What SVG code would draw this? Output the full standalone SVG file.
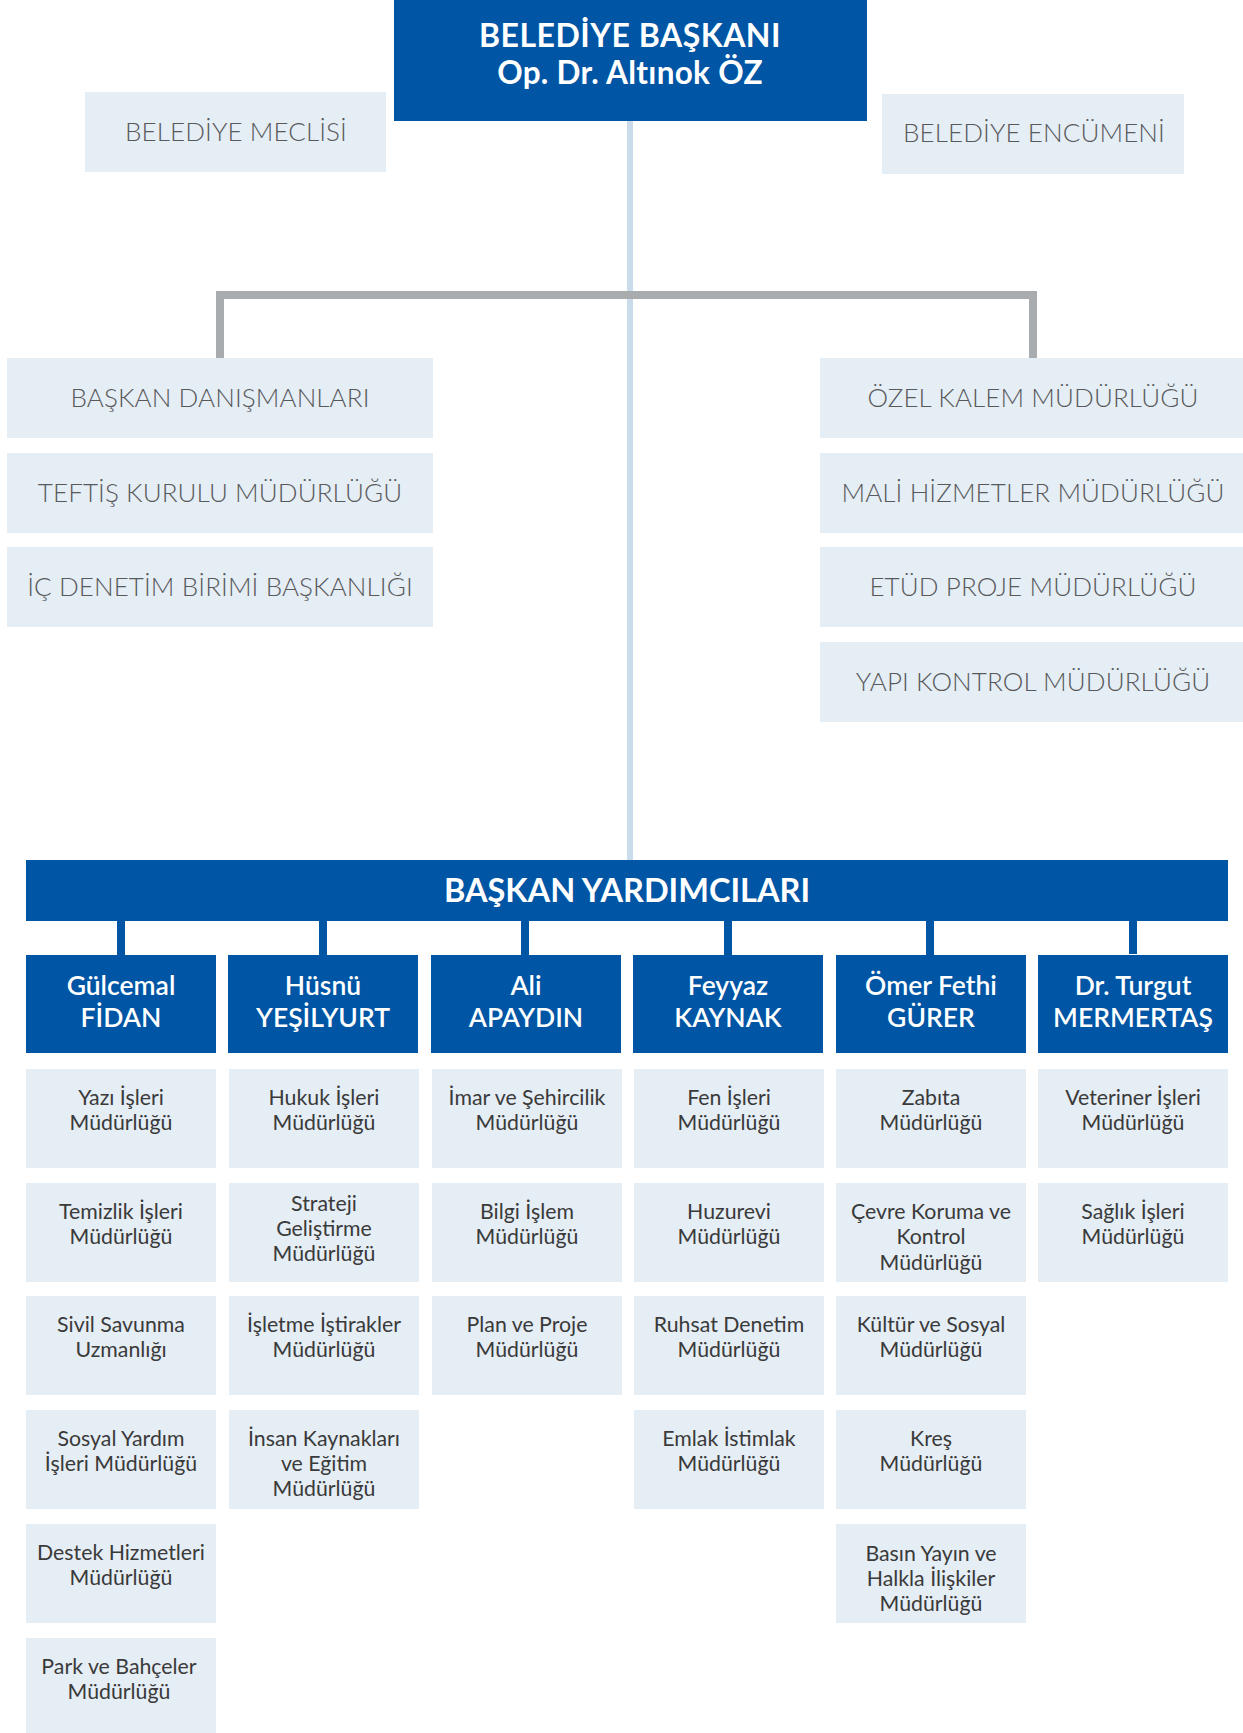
<svg xmlns="http://www.w3.org/2000/svg" width="1243" height="1733" viewBox="0 0 1243 1733">
<style>
.blue{fill:#0055A5}
.light{fill:#E5EDF5}
.tw{fill:#ffffff;font-family:Lato,"Open Sans",sans-serif;text-anchor:middle}
.tb{font-weight:700}
.tg{fill:#58595B;font-family:Lato,"Open Sans",sans-serif;font-weight:300;font-size:26px;letter-spacing:0.1px;text-anchor:middle}
.tp{font-weight:600;font-size:26.5px}
.td{fill:#3A3A3A;font-family:Lato,"Open Sans",sans-serif;font-weight:400;font-size:21.3px;text-anchor:middle}
.con{fill:#0055A5}
</style>
<rect width="1243" height="1733" fill="#ffffff"/>
<g id="connectors">
<rect x="627" y="119" width="6" height="743" fill="#CADCEC"/>
<path d="M220,358 V295 H1033 V358" fill="none" stroke="#A8ACAF" stroke-width="8"/>
<rect class="con" x="117" y="919" width="8" height="37"/>
<rect class="con" x="319" y="919" width="8" height="37"/>
<rect class="con" x="521" y="919" width="8" height="37"/>
<rect class="con" x="724" y="919" width="8" height="37"/>
<rect class="con" x="926" y="919" width="8" height="37"/>
<rect class="con" x="1129" y="919" width="8" height="35"/>
</g>
<g id="baskan">
<rect class="blue" x="394" y="0" width="473" height="121"/>
<text class="tw tb" x="630" y="47" font-size="32" letter-spacing="0.5">BELEDİYE BAŞKANI</text>
<text class="tw tb" x="630" y="84" font-size="31.5" letter-spacing="0.3">Op. Dr. Altınok ÖZ</text>
</g>
<g id="meclis">
<rect class="light" x="85" y="92" width="301" height="80"/>
<text class="tg" x="236" y="141" letter-spacing="0.4">BELEDİYE MECLİSİ</text>
</g>
<g id="encumen">
<rect class="light" x="882" y="94" width="302" height="80"/>
<text class="tg" x="1034" y="142" letter-spacing="0.3">BELEDİYE ENCÜMENİ</text>
</g>
<g id="danismanlar">
<rect class="light" x="7" y="358" width="426" height="80"/>
<text class="tg" x="220" y="407" letter-spacing="0.4">BAŞKAN DANIŞMANLARI</text>
</g>
<g id="teftis">
<rect class="light" x="7" y="453" width="426" height="80"/>
<text class="tg" x="220" y="502">TEFTİŞ KURULU MÜDÜRLÜĞÜ</text>
</g>
<g id="icdenetim">
<rect class="light" x="7" y="547" width="426" height="80"/>
<text class="tg" x="220" y="596">İÇ DENETİM BİRİMİ BAŞKANLIĞI</text>
</g>
<g id="ozelkalem">
<rect class="light" x="820" y="358" width="426" height="80"/>
<text class="tg" x="1033" y="407">ÖZEL KALEM MÜDÜRLÜĞÜ</text>
</g>
<g id="mali">
<rect class="light" x="820" y="453" width="426" height="80"/>
<text class="tg" x="1033" y="502">MALİ HİZMETLER MÜDÜRLÜĞÜ</text>
</g>
<g id="etud">
<rect class="light" x="820" y="547" width="426" height="80"/>
<text class="tg" x="1033" y="596">ETÜD PROJE MÜDÜRLÜĞÜ</text>
</g>
<g id="yapikontrol">
<rect class="light" x="820" y="642" width="426" height="80"/>
<text class="tg" x="1033" y="691">YAPI KONTROL MÜDÜRLÜĞÜ</text>
</g>
<g id="yardimcilar">
<rect class="blue" x="26" y="860" width="1202" height="61"/>
<text class="tw tb" x="627" y="902" font-size="32.5">BAŞKAN YARDIMCILARI</text>
</g>
<g id="p1"><rect class="blue" x="26" y="955" width="190" height="98"/><text class="tw tp" x="121" y="995">Gülcemal</text><text class="tw tp" x="121" y="1027">FİDAN</text></g>
<g id="p2"><rect class="blue" x="228" y="955" width="190" height="98"/><text class="tw tp" x="323" y="995">Hüsnü</text><text class="tw tp" x="323" y="1027">YEŞİLYURT</text></g>
<g id="p3"><rect class="blue" x="431" y="955" width="190" height="98"/><text class="tw tp" x="526" y="995">Ali</text><text class="tw tp" x="526" y="1027">APAYDIN</text></g>
<g id="p4"><rect class="blue" x="633" y="955" width="190" height="98"/><text class="tw tp" x="728" y="995">Feyyaz</text><text class="tw tp" x="728" y="1027">KAYNAK</text></g>
<g id="p5"><rect class="blue" x="836" y="955" width="190" height="98"/><text class="tw tp" x="931" y="995">Ömer Fethi</text><text class="tw tp" x="931" y="1027">GÜRER</text></g>
<g id="p6"><rect class="blue" x="1038" y="955" width="190" height="98"/><text class="tw tp" x="1133" y="995">Dr. Turgut</text><text class="tw tp" x="1133" y="1027">MERMERTAŞ</text></g>

<g id="d1-1"><rect class="light" x="26" y="1069" width="190" height="99"/><text class="td" x="121" y="1105">Yazı İşleri</text><text class="td" x="121" y="1130">Müdürlüğü</text></g>
<g id="d1-2"><rect class="light" x="26" y="1183" width="190" height="99"/><text class="td" x="121" y="1219">Temizlik İşleri</text><text class="td" x="121" y="1244">Müdürlüğü</text></g>
<g id="d1-3"><rect class="light" x="26" y="1296" width="190" height="99"/><text class="td" x="121" y="1332">Sivil Savunma</text><text class="td" x="121" y="1357">Uzmanlığı</text></g>
<g id="d1-4"><rect class="light" x="26" y="1410" width="190" height="99"/><text class="td" x="121" y="1446">Sosyal Yardım</text><text class="td" x="121" y="1471">İşleri Müdürlüğü</text></g>
<g id="d1-5"><rect class="light" x="26" y="1524" width="190" height="99"/><text class="td" x="121" y="1560">Destek Hizmetleri</text><text class="td" x="121" y="1585">Müdürlüğü</text></g>
<g id="d1-6"><rect class="light" x="26" y="1638" width="190" height="99"/><text class="td" x="119" y="1674">Park ve Bahçeler</text><text class="td" x="119" y="1699">Müdürlüğü</text></g>

<g id="d2-1"><rect class="light" x="229" y="1069" width="190" height="99"/><text class="td" x="324" y="1105">Hukuk İşleri</text><text class="td" x="324" y="1130">Müdürlüğü</text></g>
<g id="d2-2"><rect class="light" x="229" y="1183" width="190" height="99"/><text class="td" x="324" y="1211">Strateji</text><text class="td" x="324" y="1236">Geliştirme</text><text class="td" x="324" y="1261">Müdürlüğü</text></g>
<g id="d2-3"><rect class="light" x="229" y="1296" width="190" height="99"/><text class="td" x="324" y="1332">İşletme İştirakler</text><text class="td" x="324" y="1357">Müdürlüğü</text></g>
<g id="d2-4"><rect class="light" x="229" y="1410" width="190" height="99"/><text class="td" x="324" y="1446">İnsan Kaynakları</text><text class="td" x="324" y="1471">ve Eğitim</text><text class="td" x="324" y="1496">Müdürlüğü</text></g>

<g id="d3-1"><rect class="light" x="432" y="1069" width="190" height="99"/><text class="td" x="527" y="1105">İmar ve Şehircilik</text><text class="td" x="527" y="1130">Müdürlüğü</text></g>
<g id="d3-2"><rect class="light" x="432" y="1183" width="190" height="99"/><text class="td" x="527" y="1219">Bilgi İşlem</text><text class="td" x="527" y="1244">Müdürlüğü</text></g>
<g id="d3-3"><rect class="light" x="432" y="1296" width="190" height="99"/><text class="td" x="527" y="1332">Plan ve Proje</text><text class="td" x="527" y="1357">Müdürlüğü</text></g>

<g id="d4-1"><rect class="light" x="634" y="1069" width="190" height="99"/><text class="td" x="729" y="1105">Fen İşleri</text><text class="td" x="729" y="1130">Müdürlüğü</text></g>
<g id="d4-2"><rect class="light" x="634" y="1183" width="190" height="99"/><text class="td" x="729" y="1219">Huzurevi</text><text class="td" x="729" y="1244">Müdürlüğü</text></g>
<g id="d4-3"><rect class="light" x="634" y="1296" width="190" height="99"/><text class="td" x="729" y="1332">Ruhsat Denetim</text><text class="td" x="729" y="1357">Müdürlüğü</text></g>
<g id="d4-4"><rect class="light" x="634" y="1410" width="190" height="99"/><text class="td" x="729" y="1446">Emlak İstimlak</text><text class="td" x="729" y="1471">Müdürlüğü</text></g>

<g id="d5-1"><rect class="light" x="836" y="1069" width="190" height="99"/><text class="td" x="931" y="1105">Zabıta</text><text class="td" x="931" y="1130">Müdürlüğü</text></g>
<g id="d5-2"><rect class="light" x="836" y="1183" width="190" height="99"/><text class="td" x="931" y="1219">Çevre Koruma ve</text><text class="td" x="931" y="1244">Kontrol</text><text class="td" x="931" y="1270">Müdürlüğü</text></g>
<g id="d5-3"><rect class="light" x="836" y="1296" width="190" height="99"/><text class="td" x="931" y="1332">Kültür ve Sosyal</text><text class="td" x="931" y="1357">Müdürlüğü</text></g>
<g id="d5-4"><rect class="light" x="836" y="1410" width="190" height="99"/><text class="td" x="931" y="1446">Kreş</text><text class="td" x="931" y="1471">Müdürlüğü</text></g>
<g id="d5-5"><rect class="light" x="836" y="1524" width="190" height="99"/><text class="td" x="931" y="1561">Basın Yayın ve</text><text class="td" x="931" y="1586">Halkla İlişkiler</text><text class="td" x="931" y="1611">Müdürlüğü</text></g>

<g id="d6-1"><rect class="light" x="1038" y="1069" width="190" height="99"/><text class="td" x="1133" y="1105">Veteriner İşleri</text><text class="td" x="1133" y="1130">Müdürlüğü</text></g>
<g id="d6-2"><rect class="light" x="1038" y="1183" width="190" height="99"/><text class="td" x="1133" y="1219">Sağlık İşleri</text><text class="td" x="1133" y="1244">Müdürlüğü</text></g>
</svg>
